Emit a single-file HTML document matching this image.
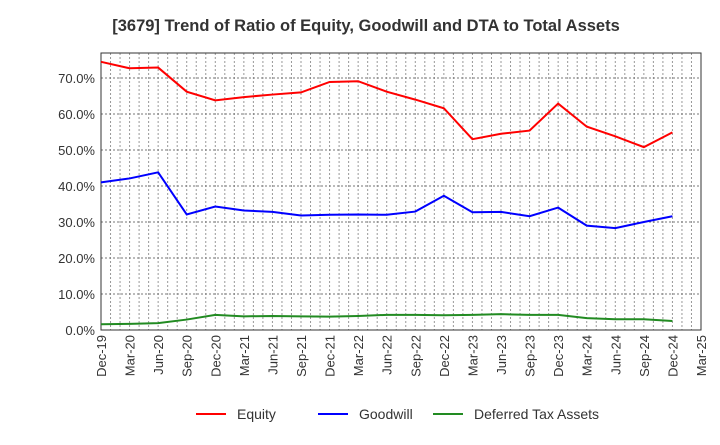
<!DOCTYPE html>
<html><head><meta charset="utf-8"><style>
body{margin:0;background:#fff;font-family:"Liberation Sans",sans-serif}
</style></head><body>
<svg width="720" height="440" xmlns="http://www.w3.org/2000/svg" id="chart">
<text x="366" y="31" text-anchor="middle" font-size="16.5" font-weight="bold" fill="#333">[3679]  Trend of Ratio of Equity, Goodwill and DTA to Total Assets</text>
<g id="grid"></g><g id="axes"></g><g id="series"></g>
<g font-size="14" fill="#333">
<line x1="196" y1="414" x2="226" y2="414" stroke="#f00" stroke-width="2"/><text x="237" y="419">Equity</text>
<line x1="318" y1="414" x2="348" y2="414" stroke="#00f" stroke-width="2"/><text x="359" y="419">Goodwill</text>
<line x1="433" y1="414" x2="463" y2="414" stroke="#228b22" stroke-width="2"/><text x="474" y="419">Deferred Tax Assets</text>
</g>
</svg>
<script>
const categories=["Dec-19","Mar-20","Jun-20","Sep-20","Dec-20","Mar-21","Jun-21","Sep-21","Dec-21","Mar-22","Jun-22","Sep-22","Dec-22","Mar-23","Jun-23","Sep-23","Dec-23","Mar-24","Jun-24","Sep-24","Dec-24","Mar-25"];
const equity=[74.5,72.7,72.9,66.2,63.8,64.7,65.4,66.0,68.9,69.1,66.2,64.0,61.6,53.0,54.5,55.4,62.9,56.5,53.8,50.8,54.9];
const goodwill=[41.0,42.1,43.8,32.1,34.3,33.2,32.8,31.8,32.0,32.1,32.0,32.9,37.3,32.7,32.8,31.6,34.0,29.0,28.3,30.0,31.6];
const dta=[1.6,1.7,1.9,2.9,4.2,3.8,3.9,3.8,3.7,3.9,4.2,4.2,4.1,4.2,4.4,4.2,4.2,3.3,3.0,3.0,2.5];
const yTicks=[0,10,20,30,40,50,60,70];
const L=101,R=701,T=53,B=330;
const x=i=>L+i*(R-L)/(categories.length-1);
const y=v=>B-v*3.6;
const NS="http://www.w3.org/2000/svg";
function mk(tag,attrs,parent){const e=document.createElementNS(NS,tag);for(const k in attrs)e.setAttribute(k,attrs[k]);document.getElementById(parent).appendChild(e);return e;}
for(let m=1;m<(categories.length-1)*3;m++){const xx=L+m*(R-L)/((categories.length-1)*3);
const g=mk('line',{x1:xx,x2:xx,y1:T,y2:B,stroke:'#999','stroke-dasharray':'2,2','stroke-width':1},'grid');

}
yTicks.forEach(v=>{if(v>0){const g=mk('line',{x1:L,x2:R,y1:y(v),y2:y(v),stroke:'#777','stroke-dasharray':'2,2'},'grid');

}
const t=mk('text',{x:L-6,y:y(v)+5,'text-anchor':'end','font-size':13,fill:'#333'},'axes');t.textContent=v.toFixed(1)+'%';

});
const box=mk('rect',{x:L,y:T,width:R-L,height:B-T,fill:'none',stroke:'#333'},'axes');


categories.forEach((c,i)=>{const t=mk('text',{transform:`translate(${x(i)+5},${B+5}) rotate(-90)`,'text-anchor':'end','font-size':13,fill:'#333'},'axes');t.textContent=c;

});
[[equity,'#f00','equity-line'],[goodwill,'#00f','goodwill-line'],[dta,'#228b22','dta-line']].forEach(([d,c,n])=>{
const p=mk('polyline',{points:d.map((v,i)=>x(i)+','+y(v)).join(' '),fill:'none',stroke:c,'stroke-width':2},'series');

});
</script>
</body></html>
